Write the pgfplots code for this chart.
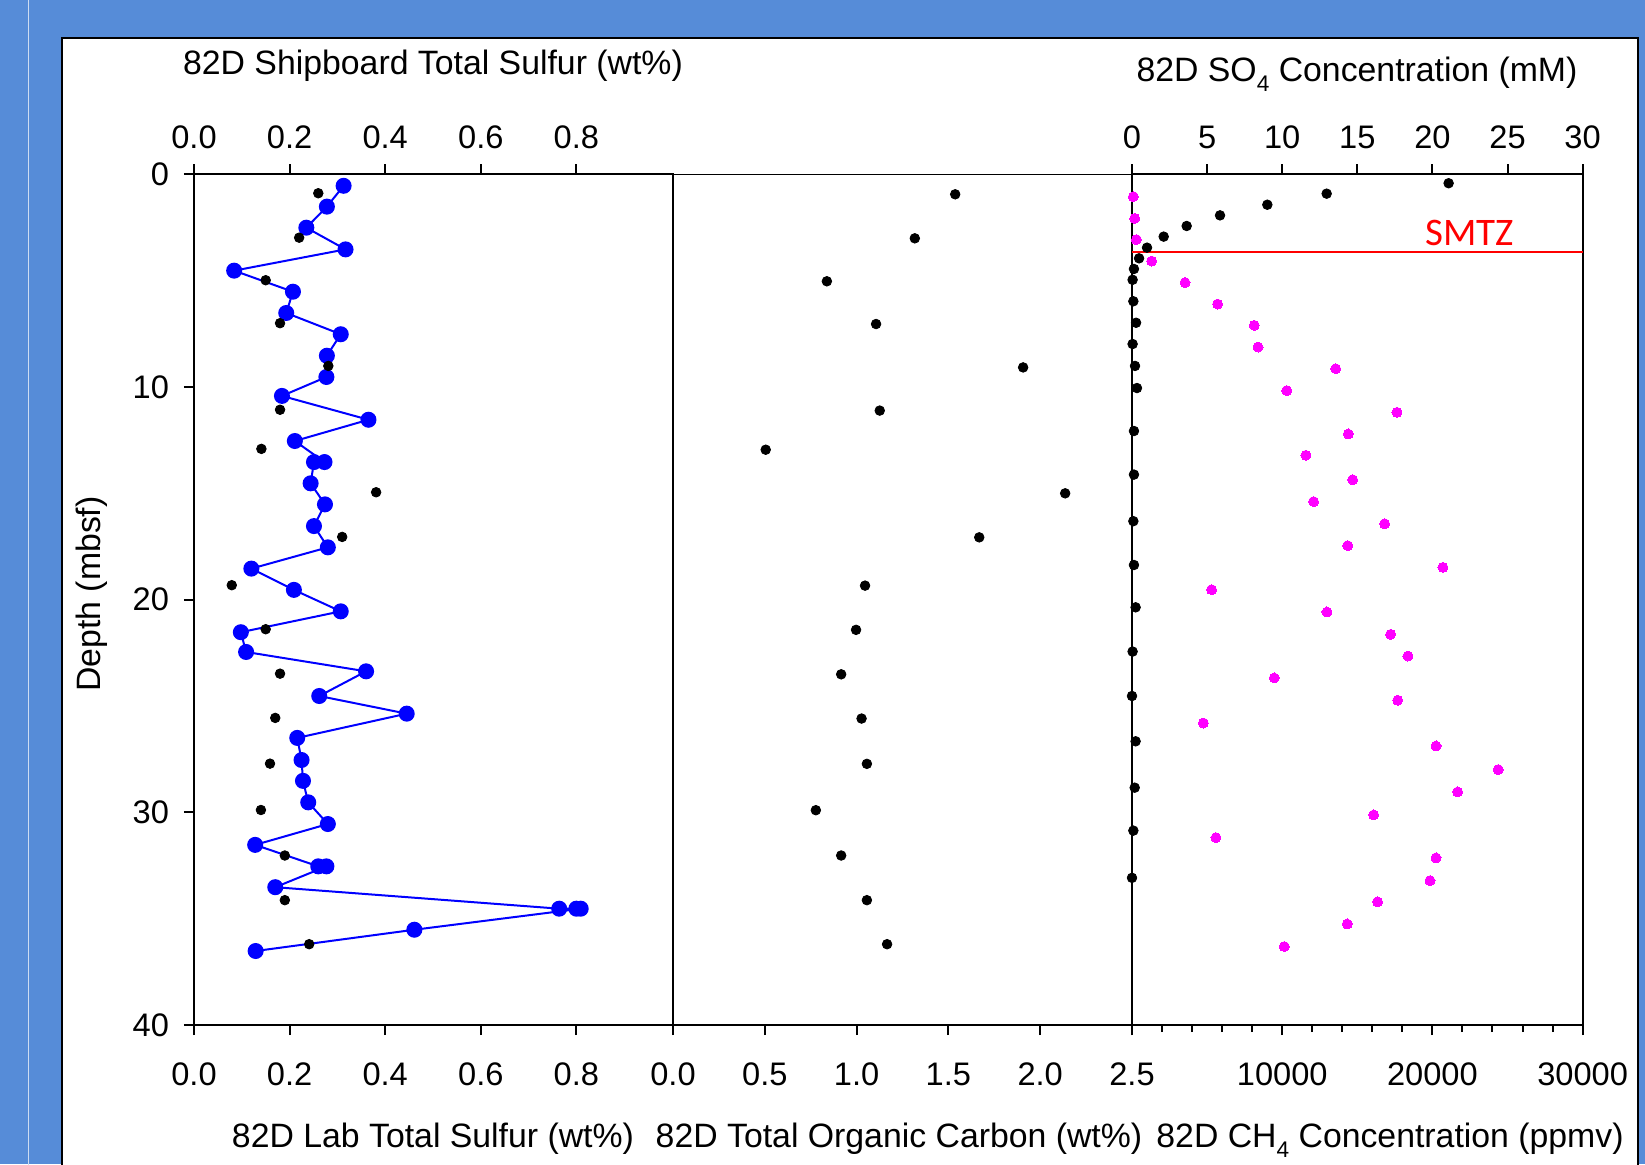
\documentclass[border=0pt]{standalone}
\usepackage{pgfplots}
\pgfplotsset{compat=1.18}
\usepackage{fontspec}
\setmainfont{Liberation Sans}
\newfontfamily\carlito{Carlito}
\definecolor{bgblue}{RGB}{86,140,216}
\definecolor{linelight}{RGB}{205,220,242}
\definecolor{mag}{RGB}{255,0,255}
\definecolor{pureblue}{RGB}{0,0,255}
\definecolor{purered}{RGB}{255,0,0}
\newcommand{\lblfont}{\fontsize{16.3}{19.5}\selectfont}
\newcommand{\ttlfont}{\fontsize{16.9}{20}\selectfont}
\newcommand{\subf}[1]{\raisebox{-5pt}{\fontsize{11.3}{11.3}\selectfont #1}}
\begin{document}
\begin{tikzpicture}[font=\lblfont]
\useasboundingbox (0,0) rectangle (822.5pt,582pt);
\fill[bgblue] (0,0) rectangle (822.5pt,582pt);
\draw[linelight, line width=0.6pt] (14.15pt,-1pt) -- (14.15pt,583pt);
\fill[white] (31.15pt,-5pt) rectangle (819pt,562.85pt);
\draw[black, line width=1pt] (31.15pt,-5pt) -- (31.15pt,562.85pt) -- (819pt,562.85pt) -- (819pt,-5pt);
% frame lines of the panels
\draw[line width=1pt, line cap=rect] (97pt,494.85pt) -- (97pt,69.5pt) -- (791.3pt,69.5pt) -- (791.3pt,494.85pt) -- (566pt,494.85pt);
\draw[line width=1pt, line cap=rect] (97pt,494.85pt) -- (336.5pt,494.85pt);
\draw[line width=0.6pt] (336.5pt,69.5pt) -- (336.5pt,494.85pt) -- (566pt,494.85pt);
\draw[line width=0.6pt] (566pt,69.5pt) -- (566pt,494.85pt);

\pgfplotsset{
  panel/.style={
    scale only axis, anchor=south west, clip=false,
    height=425.35pt, ymin=0, ymax=40, y dir=reverse,
    tick align=outside, major tick length=5pt, minor tick length=3.5pt,
    tick style={black, line width=1pt},
    axis line style={draw=none},
    tick label style={font=\lblfont},
    scaled x ticks=false, scaled y ticks=false,
    /pgf/number format/assume math mode=true,
    ytick=\empty,
  },
  bottomx/.style={xtick pos=bottom, xticklabel style={yshift=-10.5pt}},
  topx/.style={xtick pos=top, xticklabel pos=upper, xticklabel style={yshift=4.2pt}},
}

% ---------- Panel 1: Lab total sulfur (bottom) ----------
\begin{axis}[panel, bottomx, at={(97pt,69.5pt)}, width=239pt,
  xmin=0, xmax=1,
  xtick={0,0.2,0.4,0.6,0.8}, xticklabels={0.0,0.2,0.4,0.6,0.8},
  ytick={0,10,20,30,40}, yticklabels={0,10,20,30,40}, ytick pos=left,
  yticklabel style={xshift=-4pt}]
\addplot[pureblue, line width=1pt, mark=*, mark size=3.5pt, mark options={fill=pureblue, draw=none}] coordinates {
(0.313,0.54) (0.278,1.52) (0.235,2.51) (0.317,3.53) (0.084,4.53) (0.207,5.52)
(0.193,6.52) (0.307,7.52) (0.278,8.53) (0.277,9.53) (0.184,10.42) (0.365,11.54)
(0.211,12.54) (0.273,13.53) (0.251,13.53) (0.244,14.53) (0.274,15.52) (0.251,16.54)
(0.280,17.54) (0.120,18.54) (0.209,19.54) (0.307,20.55) (0.098,21.53) (0.109,22.46)
(0.360,23.37) (0.262,24.53) (0.445,25.36) (0.216,26.50) (0.225,27.54) (0.228,28.52)
(0.239,29.53) (0.280,30.55) (0.128,31.53) (0.260,32.54) (0.277,32.54) (0.170,33.52)
(0.764,34.53) (0.800,34.53) (0.809,34.53) (0.461,35.52) (0.129,36.52)};
\end{axis}

% ---------- Panel 1: Shipboard total sulfur (top) ----------
\begin{axis}[panel, topx, at={(97pt,69.5pt)}, width=239pt,
  xmin=0, xmax=1,
  xtick={0,0.2,0.4,0.6,0.8}, xticklabels={0.0,0.2,0.4,0.6,0.8}]
\addplot[black, only marks, mark=*, mark size=2.4pt, mark options={fill=black, draw=none}] coordinates {
(0.260,0.89) (0.220,2.98) (0.150,4.98) (0.180,7.00) (0.281,9.01) (0.180,11.07)
(0.141,12.91) (0.381,14.95) (0.310,17.05) (0.079,19.32) (0.150,21.39) (0.180,23.48)
(0.170,25.56) (0.159,27.71) (0.140,29.89) (0.190,32.03) (0.190,34.13) (0.241,36.20)};
\end{axis}

% ---------- Panel 2: TOC ----------
\begin{axis}[panel, bottomx, at={(336.5pt,69.5pt)}, width=229.5pt,
  xmin=0, xmax=2.5,
  xtick={0,0.5,1,1.5,2,2.5}, xticklabels={0.0,0.5,1.0,1.5,2.0,2.5}]
\addplot[black, only marks, mark=*, mark size=2.4pt, mark options={fill=black, draw=none}] coordinates {
(1.537,0.94) (1.317,3.01) (0.838,5.03) (1.106,7.04) (1.907,9.08) (1.126,11.11)
(0.505,12.95) (2.136,15.00) (1.668,17.07) (1.046,19.34) (0.997,21.42) (0.916,23.51)
(1.027,25.59) (1.056,27.72) (0.778,29.90) (0.916,32.03) (1.056,34.13) (1.166,36.20)};
\end{axis}

% ---------- Panel 3: CH4 (bottom) ----------
\begin{axis}[panel, bottomx, at={(566pt,69.5pt)}, width=225.3pt,
  xmin=0, xmax=30000,
  xtick={0,10000,20000,30000}, xticklabels={,10000,20000,30000},
  minor xtick={2000,4000,6000,8000,12000,14000,16000,18000,22000,24000,26000,28000}]
\addplot[mag, only marks, mark=*, mark size=2.5pt, mark options={fill=mag, draw=mag, line width=0pt}] coordinates {
(89,1.05) (180,2.07) (290,3.07) (1310,4.08) (3530,5.09) (5700,6.10) (8140,7.10)
(8390,8.12) (13560,9.14) (10300,10.17) (17640,11.19) (14400,12.21) (11580,13.21)
(14690,14.36) (12090,15.39) (16820,16.43) (14360,17.46) (20700,18.48) (5300,19.53)
(12980,20.58) (17220,21.63) (18370,22.65) (9470,23.68) (17690,24.73) (4750,25.80)
(20240,26.88) (24380,27.99) (21680,29.04) (16090,30.12) (5590,31.19) (20240,32.14)
(19840,33.21) (16350,34.21) (14330,35.25) (10140,36.31)};
\end{axis}

% ---------- Panel 3: SO4 (top) ----------
\begin{axis}[panel, topx, at={(566pt,69.5pt)}, width=225.3pt,
  xmin=0, xmax=30,
  xtick={0,5,10,15,20,25,30}, xticklabels={0,5,10,15,20,25,30}]
\addplot[purered, line width=1.1pt] coordinates {(0,3.65) (30,3.65)};
\addplot[black, only marks, mark=*, mark size=2.4pt, mark options={fill=black, draw=none}] coordinates {
(21.08,0.42) (12.96,0.91) (9.01,1.43) (5.86,1.93) (3.64,2.43) (2.11,2.93) (1.00,3.45)
(0.47,3.95) (0.13,4.45) (0.04,4.96) (0.09,5.97) (0.27,6.98) (0.04,7.98) (0.20,9.01)
(0.33,10.05) (0.13,12.07) (0.13,14.12) (0.09,16.31) (0.13,18.37) (0.24,20.36)
(0.04,22.44) (0.00,24.53) (0.24,26.66) (0.18,28.84) (0.09,30.86) (0.00,33.08)};
\node[purered, anchor=base, font=\carlito\fontsize{19.5}{21}\selectfont] at (axis cs:22.47,3.37) {SMTZ};
\end{axis}

% ---------- titles ----------
\node[anchor=base, font=\ttlfont] at (216.5pt,544.5pt) {82D Shipboard Total Sulfur (wt\%)};
\node[anchor=base, font=\ttlfont] at (678.5pt,541pt) {82D SO\subf{4} Concentration (mM)};
\node[anchor=base, font=\ttlfont] at (216.5pt,8.3pt) {82D Lab Total Sulfur (wt\%)};
\node[anchor=base, font=\ttlfont] at (449.5pt,8.3pt) {82D Total Organic Carbon (wt\%)};
\node[anchor=base, font=\ttlfont] at (695pt,8.3pt) {82D CH\subf{4} Concentration (ppmv)};
\node[rotate=90, font=\ttlfont] at (46pt,285pt) {Depth (mbsf)};
\end{tikzpicture}
\end{document}
